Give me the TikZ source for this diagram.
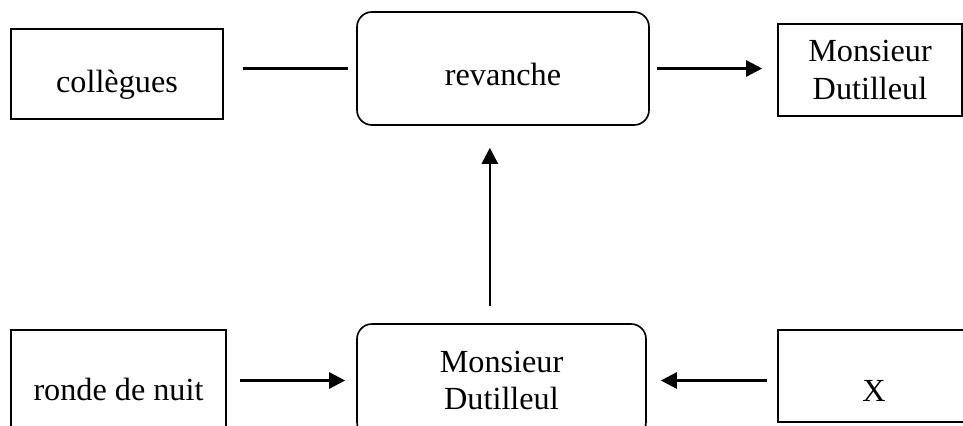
\documentclass[tikz,border=0pt]{standalone}
\usepackage{fontspec}
\setmainfont{Liberation Serif}
\usepackage{xcolor}
\usepackage{tikz}
\usetikzlibrary{arrows.meta, positioning, calc}
\definecolor{boxline}{RGB}{0, 0, 0}
\tikzset{
    plainbox/.style={
        rectangle,
        draw=boxline,
        line width=1.4pt,
        inner sep=2pt,
        align=center,
        font=\fontsize{27.5}{31.6}\selectfont
    },
    roundbox/.style={
        plainbox,
        rounded corners=0.45cm
    },
    link/.style={
        line width=1.8pt
    },
    flow/.style={
        -{Triangle[length=0.48cm, width=0.48cm]},
        line width=2.2pt
    }
}

\begin{document}
\begin{tikzpicture}[x=0.03cm, y=-0.03cm]
        \useasboundingbox (0,0) rectangle (963,426);
        \clip (0,0) rectangle (963,426);

        \node[plainbox, minimum width=6.36cm, minimum height=2.7cm, text depth=0.2cm, text height=1.28cm] (coll) at (117,74) {collègues};
        \node[roundbox, minimum width=8.76cm, minimum height=3.39cm, text depth=0.2cm, text height=1.25cm] (rev) at (503,68.5) {revanche};
        \node[plainbox, minimum width=5.52cm, minimum height=2.76cm] (dutop) at (870,70) {Monsieur\\Dutilleul};

        \node[plainbox, minimum width=6.45cm, minimum height=3.45cm, text depth=0.2cm, text height=0.95cm] (ronde) at (118.5,387.5) {ronde de nuit};
        \node[roundbox, minimum width=8.67cm, minimum height=3.39cm] (dubot) at (501.5,380.5) {Monsieur\\Dutilleul};
        \node[plainbox, minimum width=5.76cm, minimum height=2.76cm, text depth=0.2cm, text height=1.7cm] (xbox) at (874,376) {X};

        \draw[link, shorten <=0.57cm, shorten >=0.24cm] (coll.east |- rev.west) -- (rev.west);
        \draw[flow, shorten <=0.21cm, shorten >=0.45cm] (rev.east) -- (rev.east -| dutop.west);
        \draw[flow, shorten <=0.51cm, shorten >=0.66cm] ([xshift=-0.35cm]dubot.north) -- ([xshift=-0.35cm]dubot.north |- rev.south);
        \draw[flow, shorten <=0.39cm, shorten >=0.33cm] (ronde.east |- dubot.west) -- (dubot.west);
        \draw[flow, shorten <=0.30cm, shorten >=0.42cm] (xbox.west |- dubot.east) -- (dubot.east);
    \end{tikzpicture}
\end{document}
